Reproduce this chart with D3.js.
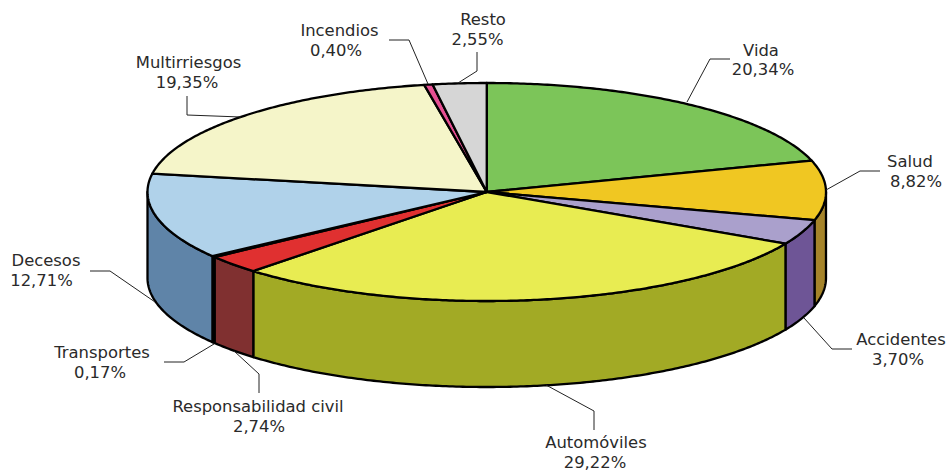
<!DOCTYPE html>
<html><head><meta charset="utf-8">
<style>html,body{margin:0;padding:0;background:#fff}svg{display:block}
text{font-family:"DejaVu Sans",sans-serif;font-size:16.4px;fill:#2a2a2a;text-anchor:middle}</style>
<script src="https://cdn.jsdelivr.net/npm/d3@7/dist/d3.min.js"></script></head><body>
<svg id="c" width="948" height="471"></svg>
<script>
const categories=["Vida","Salud","Accidentes","Automóviles","Responsabilidad civil","Transportes","Decesos","Multirriesgos","Incendios","Resto"];
const values=[20.34,8.82,3.70,29.22,2.74,0.17,12.71,19.35,0.40,2.55];
const valueLabels=["20,34%","8,82%","3,70%","29,22%","2,74%","0,17%","12,71%","19,35%","0,40%","2,55%"];
const topColors=["#7cc559","#f0c722","#aaa0cc","#e8ec52","#e03030","#2f6b1f","#b0d2ea","#f5f5c9","#e64f92","#d6d6d6"];
const sideColors=["#5e9a42","#a5842a","#6e5596","#a2aa25","#803030","#3b5a20","#5f84a8","#aaaa88","#a03565","#959595"];
const nameAnchors=[[761,56],[910,167],[901,345],[596,448],[258,412],[102,358],[46,266],[188.5,68],[339.5,36],[483,25]];
const valueAnchors=[[763,75],[916,187],[898,365],[595,468],[259,432],[100,378],[41.5,286],[187,88],[336,56],[477.5,45]];
const leaders=[
 [[687,102],[710,59],[730,59]],
 [[826,190],[860,171],[880,171]],
 [[804,318],[832,349],[852,349]],
 [[546,385],[594,411],[594,430]],
 [[234,351],[259,374],[259,393]],
 [[214,344],[184,362],[164,362]],
 [[155,302],[110,271],[90,271]],
 [[241,117],[187,115],[187,96]],
 [[428,84],[409,40],[389,40]],
 [[458,83],[477,71],[477,52]]
];
const svg=d3.select("#c");
const sx=d3.scaleLinear().domain([-1,1]).range([147.5,826]);
const sy=d3.scaleLinear().domain([-1,1]).range([83,301]);
const depth=86;
const arcs=d3.pie().sort(null).value(d=>d).startAngle(0).endAngle(2*Math.PI)(values);
const line=d3.line();
const pt=(a,dy=0)=>[sx(Math.sin(a)),sy(-Math.cos(a))+dy];
const samples=(a0,a1)=>{const n=Math.max(2,Math.ceil((a1-a0)/0.01));return d3.range(n+1).map(i=>a0+(a1-a0)*i/n);};

// side walls, only where the rim faces the viewer
const sides=svg.append("g");
arcs.forEach((d,i)=>{
  const a0=Math.max(d.startAngle,Math.PI/2), a1=Math.min(d.endAngle,3*Math.PI/2);
  if(a1<=a0) return;
  const s=samples(a0,a1);
  const poly=[...s.map(a=>pt(a)),...s.slice().reverse().map(a=>pt(a,depth))];
  sides.append("path").attr("d",line(poly)+"Z").attr("fill",sideColors[i])
    .attr("stroke","#000").attr("stroke-width",2.3).attr("stroke-linejoin","round");
});
// top face
const tops=svg.append("g");
arcs.forEach((d,i)=>{
  const poly=[[sx(0),sy(0)],...samples(d.startAngle,d.endAngle).map(a=>pt(a))];
  tops.append("path").attr("d",line(poly)+"Z").attr("fill",topColors[i])
    .attr("stroke","#000").attr("stroke-width",2.3).attr("stroke-linejoin","round");
});
// leaders
svg.append("g").selectAll("path").data(leaders).join("path")
  .attr("d",d=>line(d)).attr("fill","none").attr("stroke","#222").attr("stroke-width",1);
// labels
categories.forEach((c,i)=>{
  svg.append("text").attr("x",nameAnchors[i][0]).attr("y",nameAnchors[i][1]).text(c);
  svg.append("text").attr("x",valueAnchors[i][0]).attr("y",valueAnchors[i][1]).text(valueLabels[i]);
});
</script></body></html>
